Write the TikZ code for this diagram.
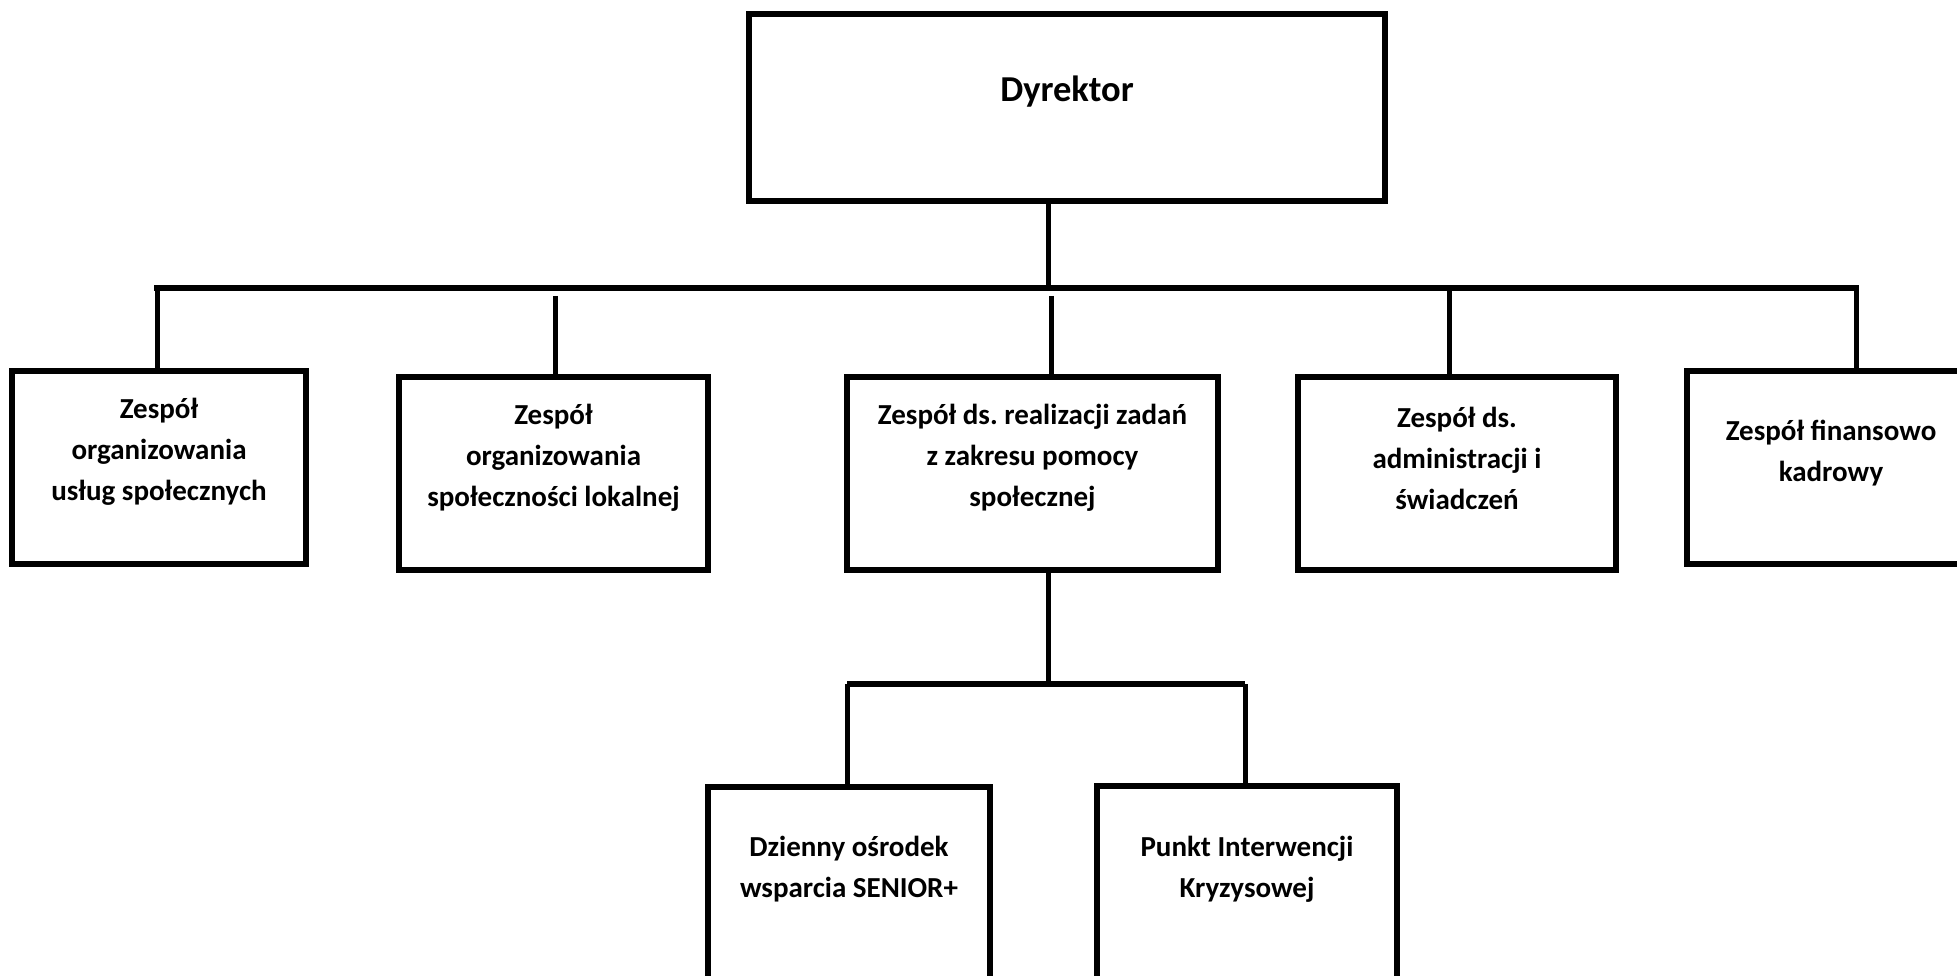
\documentclass[tikz,border=0pt]{standalone}
\usepackage{fontspec}
\setmainfont{Carlito}
\frenchspacing
\begin{document}
\begin{tikzpicture}[x=1pt,y=-1pt,
  box/.style={draw=black,line width=5.5pt,fill=white,inner sep=0pt},
  lbl/.style={align=center,font=\fontsize{29}{41}\selectfont\bfseries,inner sep=0pt},
  conn/.style={draw=black,line width=5pt},
  barline/.style={draw=black,line width=6pt,line cap=rect}]
\useasboundingbox (0,0) rectangle (1957,976);
\clip (0,0) rectangle (1957,976);
% boxes
\node[box,minimum width=636pt,minimum height=187pt] (d) at (1067,107.5) {};
\node[box,minimum width=294pt,minimum height=193pt] (b1) at (159,467.5) {};
\node[box,minimum width=309pt,minimum height=193pt] (b2) at (553.5,473.5) {};
\node[box,minimum width=371pt,minimum height=193pt] (b3) at (1032.5,473.5) {};
\node[box,minimum width=318pt,minimum height=193pt] (b4) at (1457,473.5) {};
\node[box,minimum width=288pt,minimum height=193pt] (b5) at (1831,467.5) {};
\node[box,minimum width=282pt,minimum height=260pt] (b6) at (849,917) {};
\node[box,minimum width=300pt,minimum height=260pt] (b7) at (1247,916) {};
% texts
\node[lbl,font=\fontsize{36.5}{41}\selectfont\bfseries] (td) at (1067,92) {Dyrektor};
\node[lbl] (t1) at (159,452) {Zespół\\organizowania\\usług społecznych};
\node[lbl] (t2) at (553.5,458) {Zespół\\organizowania\\społeczności lokalnej};
\node[lbl] (t3) at (1032.5,458) {Zespół ds. realizacji zadań\\z zakresu pomocy\\społecznej};
\node[lbl] (t4) at (1457,458) {Zespół ds.\\administracji i\\świadczeń};
\node[lbl] (t5) at (1831,453) {Zespół finansowo\\kadrowy};
\node[lbl] (t6) at (849,869) {Dzienny ośrodek\\wsparcia SENIOR+};
\node[lbl] (t7) at (1247,869) {Punkt Interwencji\\Kryzysowej};
% junctions
\coordinate (jd) at (1048,288);
\coordinate (jl) at (157,288);
\coordinate (jr) at (1856,288);
\coordinate (j2) at (555,296);
\coordinate (j3) at (1051,296);
\coordinate (j4) at (1449,288);
\coordinate (s) at (1048,684);
\coordinate (sl) at (847,684);
\coordinate (sr) at (1245,684);
% connectors
\draw[conn] (jd |- d.south) -- (jd);
\draw[barline] (jl) -- (jr);
\draw[conn] (jl) -- (jl |- b1.north);
\draw[conn] (j2) -- (j2 |- b2.north);
\draw[conn] (j3) -- (j3 |- b3.north);
\draw[conn] (j4) -- (j4 |- b4.north);
\draw[conn] (jr) -- (jr |- b5.north);
\draw[conn] (s |- b3.south) -- (s);
\draw[barline,line cap=butt] (sl) -- (sr);
\draw[conn] (sl) -- (sl |- b6.north);
\draw[conn] (sr) -- (sr |- b7.north);
\end{tikzpicture}
\end{document}
